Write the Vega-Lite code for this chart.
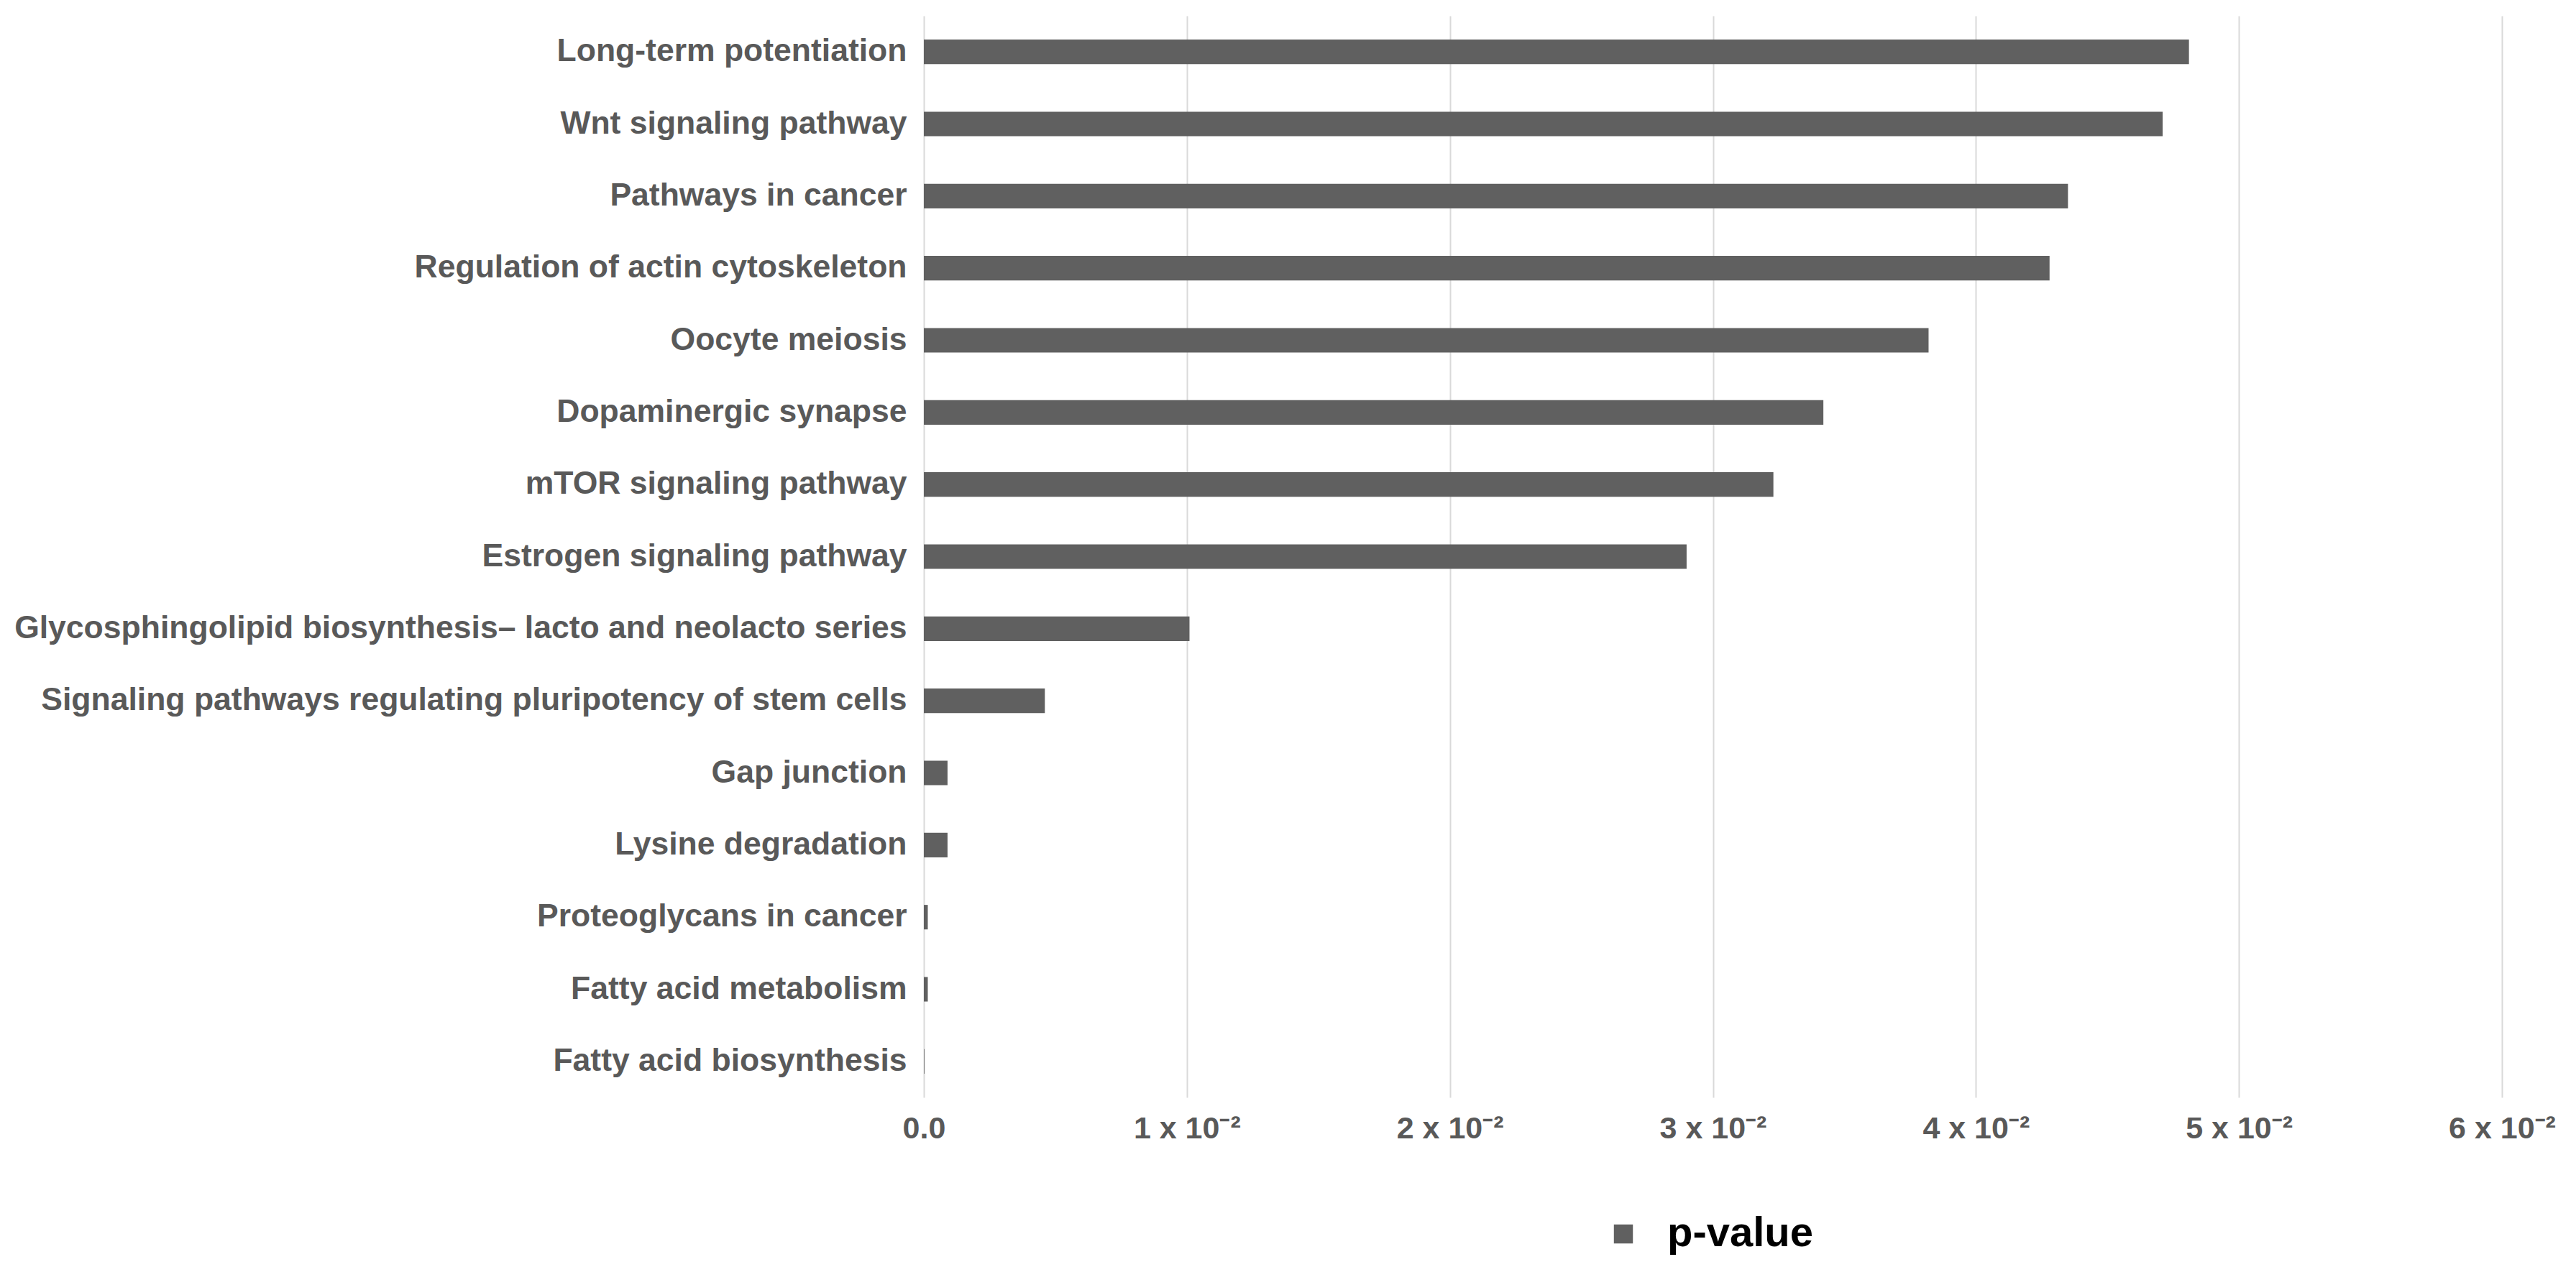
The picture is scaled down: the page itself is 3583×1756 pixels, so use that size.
{
  "$schema": "https://vega.github.io/schema/vega-lite/v6.json",
  "width": 2195,
  "height": 1505,
  "autosize": {"type": "none"},
  "padding": {"left": 1285, "top": 22, "right": 103, "bottom": 229},
  "background": "white",
  "config": {
    "view": {"stroke": null},
    "font": "Liberation Sans"
  },
  "data": {
    "values": [
      {"pathway": "Long-term potentiation", "pvalue": 0.0481, "series": "p-value"},
      {"pathway": "Wnt signaling pathway", "pvalue": 0.0471, "series": "p-value"},
      {"pathway": "Pathways in cancer", "pvalue": 0.0435, "series": "p-value"},
      {"pathway": "Regulation of actin cytoskeleton", "pvalue": 0.0428, "series": "p-value"},
      {"pathway": "Oocyte meiosis", "pvalue": 0.0382, "series": "p-value"},
      {"pathway": "Dopaminergic synapse", "pvalue": 0.0342, "series": "p-value"},
      {"pathway": "mTOR signaling pathway", "pvalue": 0.0323, "series": "p-value"},
      {"pathway": "Estrogen signaling pathway", "pvalue": 0.0290, "series": "p-value"},
      {"pathway": "Glycosphingolipid biosynthesis\u2013 lacto and neolacto series", "pvalue": 0.0101, "series": "p-value"},
      {"pathway": "Signaling pathways regulating pluripotency of stem cells", "pvalue": 0.0046, "series": "p-value"},
      {"pathway": "Gap junction", "pvalue": 0.0009, "series": "p-value"},
      {"pathway": "Lysine degradation", "pvalue": 0.0009, "series": "p-value"},
      {"pathway": "Proteoglycans in cancer", "pvalue": 0.00015, "series": "p-value"},
      {"pathway": "Fatty acid metabolism", "pvalue": 0.00015, "series": "p-value"},
      {"pathway": "Fatty acid biosynthesis", "pvalue": 0.00002, "series": "p-value"}
    ]
  },
  "mark": {"type": "bar", "color": "#606060"},
  "encoding": {
    "y": {
      "field": "pathway",
      "type": "nominal",
      "sort": null,
      "scale": {"paddingInner": 0.66, "paddingOuter": 0.33},
      "axis": {
        "title": null,
        "domain": false,
        "ticks": false,
        "grid": false,
        "labelPadding": 24,
        "labelFontSize": 44.5,
        "labelFontWeight": "bold",
        "labelColor": "#595959",
        "labelFont": "Liberation Sans",
        "labelLimit": 2000
      }
    },
    "x": {
      "field": "pvalue",
      "type": "quantitative",
      "scale": {"domain": [0, 0.06], "nice": false},
      "axis": {
        "title": null,
        "values": [0, 0.01, 0.02, 0.03, 0.04, 0.05, 0.06],
        "labelExpr": "datum.value == 0 ? '0.0' : format(datum.value * 100, '.0f') + ' x 10\u207b\u00b2'",
        "domain": false,
        "ticks": false,
        "grid": true,
        "gridColor": "#d9d9d9",
        "gridWidth": 2,
        "labelPadding": 22,
        "labelFontSize": 43,
        "labelFontWeight": "bold",
        "labelColor": "#595959",
        "labelFont": "Liberation Sans",
        "labelFlush": false
      }
    },
    "color": {
      "field": "series",
      "type": "nominal",
      "scale": {"range": ["#606060"]},
      "legend": {
        "title": null,
        "orient": "none",
        "legendX": 944,
        "legendY": 1666,
        "symbolType": "square",
        "symbolSize": 700,
        "symbolStrokeWidth": 0,
        "labelFontSize": 58,
        "labelFontWeight": "bold",
        "labelColor": "#000000",
        "labelFont": "Liberation Sans",
        "labelOffset": 32,
        "labelLimit": 1000
      }
    }
  }
}
